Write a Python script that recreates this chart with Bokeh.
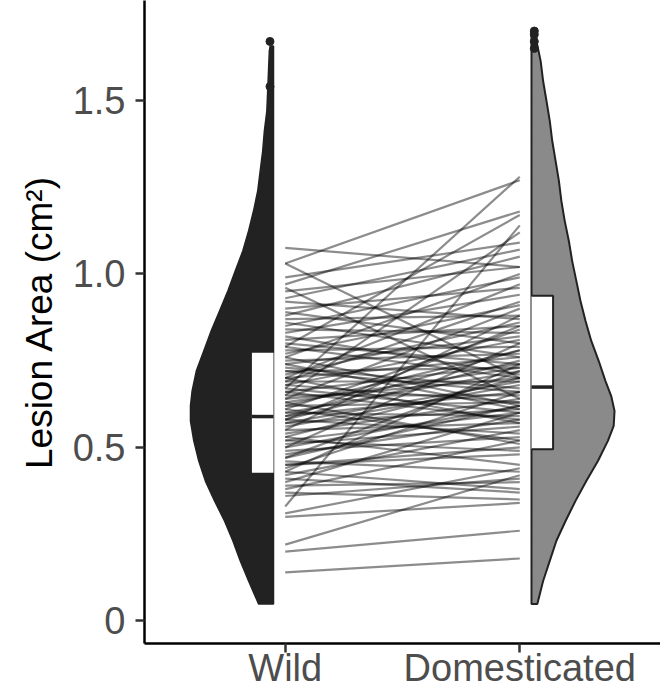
from bokeh.plotting import figure
from bokeh.models import Range1d, FixedTicker
from bokeh.embed import file_html
from bokeh.resources import INLINE

# ---------------- data ----------------
groups = ["Wild", "Domesticated"]
group_pos = [1, 2]

# paired observations (lesion area, cm2)
wild_vals = [0.14, 0.20, 0.22, 0.30, 0.31, 0.33, 0.37, 0.38, 0.39, 0.40, 0.41, 0.42, 0.43, 0.44,
             0.45, 0.46, 0.47, 0.48, 0.49, 0.50, 0.50, 0.51, 0.52, 0.53, 0.54, 0.55, 0.55, 0.56,
             0.57, 0.58, 0.58, 0.59, 0.60, 0.60, 0.61, 0.62, 0.62, 0.63, 0.64, 0.64, 0.65, 0.66,
             0.67, 0.67, 0.68, 0.69, 0.70, 0.70, 0.71, 0.72, 0.73, 0.74, 0.75, 0.76, 0.77, 0.78,
             0.79, 0.80, 0.81, 0.82, 0.83, 0.84, 0.85, 0.86, 0.87, 0.88, 0.89, 0.90, 0.92, 0.93,
             0.95, 0.96, 0.97, 0.99, 1.03, 1.075, 1.03, 0.36, 0.45, 0.52, 0.57, 0.63, 0.66, 0.69,
             0.72, 0.74, 0.79, 0.53, 0.59, 0.61, 0.68, 0.76, 0.47, 0.43, 0.65, 0.70, 0.58]
dom_vals = [0.18, 0.26, 0.42, 0.34, 0.44, 1.14, 0.35, 0.52, 0.40, 0.60, 0.37, 0.55, 0.38, 0.66,
            0.48, 0.43, 0.72, 0.58, 0.53, 0.80, 0.62, 0.56, 0.49, 0.70, 0.64, 0.57, 0.88, 0.68,
            0.61, 0.75, 0.54, 0.66, 0.72, 0.59, 0.84, 0.63, 0.78, 0.51, 0.70, 0.90, 0.65, 0.74,
            0.60, 1.28, 0.81, 0.69, 0.76, 0.57, 0.86, 0.73, 0.67, 0.82, 0.77, 0.62, 0.91, 0.79,
            1.17, 0.74, 0.85, 0.71, 0.94, 0.83, 0.99, 0.76, 0.88, 1.05, 0.80, 0.96, 0.87, 1.07,
            1.02, 0.64, 1.18, 1.09, 1.27, 1.02, 0.70, 0.41, 0.50, 0.60, 0.69, 0.73, 0.58, 0.92,
            0.66, 0.61, 0.70, 0.45, 0.78, 0.52, 0.63, 1.00, 0.62, 0.74, 1.12, 0.97, 0.85]

# half-violin density profiles (value level, relative density)
wild_dens_y = [0.049, 0.115, 0.173, 0.231, 0.288, 0.346, 0.403, 0.461, 0.519, 0.576, 0.620,
               0.663, 0.720, 0.778, 0.836, 0.893, 0.951, 1.009, 1.066, 1.124, 1.182, 1.239,
               1.297, 1.354, 1.412, 1.470, 1.527, 1.585, 1.643, 1.657]
wild_dens = [0.18, 0.30, 0.40, 0.49, 0.59, 0.71, 0.82, 0.90, 0.96, 1.00, 1.00, 0.98, 0.93, 0.84,
             0.75, 0.65, 0.55, 0.46, 0.37, 0.30, 0.24, 0.19, 0.16, 0.13, 0.11, 0.08, 0.07, 0.06,
             0.05, 0.04]
dom_dens_y = [0.049, 0.115, 0.173, 0.231, 0.288, 0.346, 0.403, 0.461, 0.519, 0.562, 0.605,
              0.648, 0.692, 0.749, 0.807, 0.865, 0.922, 0.980, 1.037, 1.095, 1.153, 1.210,
              1.268, 1.326, 1.383, 1.441, 1.499, 1.556, 1.614, 1.671, 1.700]
dom_dens = [0.07, 0.14, 0.22, 0.30, 0.41, 0.53, 0.66, 0.80, 0.92, 0.99, 1.00, 0.96, 0.89, 0.81,
            0.72, 0.65, 0.59, 0.54, 0.49, 0.45, 0.40, 0.36, 0.33, 0.29, 0.25, 0.22, 0.18, 0.14,
            0.11, 0.06, 0.02]

# box statistics: lower hinge, median, upper hinge
wild_box = [0.427, 0.589, 0.773]
dom_box = [0.495, 0.674, 0.937]

# extreme points at the top of the distributions
wild_top_pts = [1.67, 1.54]
dom_top_pts = [1.70, 1.69, 1.67, 1.65]

y_ticks = [0, 0.5, 1.0, 1.5]
y_tick_labels = ["0", "0.5", "1.0", "1.5"]

# ---------------- figure ----------------
p = figure(width=660, height=691, output_backend="svg", toolbar_location=None,
           x_range=Range1d(0.4, 2.6), y_range=Range1d(-0.065, 1.788),
           min_border_left=144, min_border_right=0, min_border_top=0, min_border_bottom=40)
p.outline_line_color = None
p.grid.visible = False
p.background_fill_color = "white"

NUDGE = 0.05
VW = 0.354
BW = 0.092

# paired lines
xs = [[group_pos[0], group_pos[1]] for _ in wild_vals]
ys = [[w, d] for w, d in zip(wild_vals, dom_vals)]
p.multi_line(xs=xs, ys=ys, line_color="black", line_alpha=0.45, line_width=2.2)

# wild half violin (left of position)
wx_edge = group_pos[0] - NUDGE
wpx = [wx_edge - VW * d for d in wild_dens] + [wx_edge, wx_edge]
wpy = list(wild_dens_y) + [wild_dens_y[-1], wild_dens_y[0]]
p.patch(wpx, wpy, fill_color="#222222", line_color="#222222", line_width=1.5)

# domesticated half violin (right of position)
dx_edge = group_pos[1] + NUDGE
dpx = [dx_edge + VW * d for d in dom_dens] + [dx_edge, dx_edge]
dpy = list(dom_dens_y) + [dom_dens_y[-1], dom_dens_y[0]]
p.patch(dpx, dpy, fill_color="#8a8a8a", line_color="#222222", line_width=2)

# boxes
p.quad(left=[wx_edge - BW], right=[wx_edge], bottom=[wild_box[0]], top=[wild_box[2]],
       fill_color="white", line_color=None)
p.segment(x0=[wx_edge - BW], x1=[wx_edge], y0=[wild_box[1]], y1=[wild_box[1]],
          line_color="#222222", line_width=3.5)

p.quad(left=[dx_edge], right=[dx_edge + BW], bottom=[dom_box[0]], top=[dom_box[2]],
       fill_color="white", line_color=None)
p.multi_line(xs=[[dx_edge, dx_edge + BW, dx_edge + BW, dx_edge]],
             ys=[[dom_box[2], dom_box[2], dom_box[0], dom_box[0]]],
             line_color="#222222", line_width=2)
p.segment(x0=[dx_edge], x1=[dx_edge + BW], y0=[dom_box[1]], y1=[dom_box[1]],
          line_color="#222222", line_width=3.5)

# top points
p.scatter(x=[wx_edge - 0.015] * len(wild_top_pts), y=wild_top_pts, size=8,
          fill_color="#222222", line_color="#222222")
p.scatter(x=[dx_edge + 0.012] * len(dom_top_pts), y=dom_top_pts, size=8,
          fill_color="#222222", line_color="#222222")

# axes
p.xaxis.ticker = FixedTicker(ticks=group_pos)
p.xaxis.major_label_overrides = {g: lab for g, lab in zip(group_pos, groups)}
p.yaxis.ticker = FixedTicker(ticks=y_ticks)
p.yaxis.major_label_overrides = {t: lab for t, lab in zip(y_ticks, y_tick_labels)}
p.yaxis.axis_label = "Lesion Area (cm²)"

for ax in (p.xaxis[0], p.yaxis[0]):
    ax.axis_line_color = "black"
    ax.axis_line_width = 2.5
    ax.major_tick_line_color = "#333333"
    ax.major_tick_line_width = 2.5
    ax.major_tick_in = 0
    ax.major_tick_out = 9
    ax.minor_tick_line_color = None
    ax.major_label_text_font = "Liberation Sans"
    ax.major_label_text_font_size = "38px"
    ax.major_label_text_color = "#4d4d4d"

p.xaxis.major_label_standoff = -6
p.yaxis.major_label_standoff = 10
p.yaxis.axis_label_text_font = "Liberation Sans"
p.yaxis.axis_label_text_font_size = "37px"
p.yaxis.axis_label_text_font_style = "normal"
p.yaxis.axis_label_text_color = "black"
p.yaxis.axis_label_standoff = 10

open("out.html", "w").write(file_html(p, INLINE))
